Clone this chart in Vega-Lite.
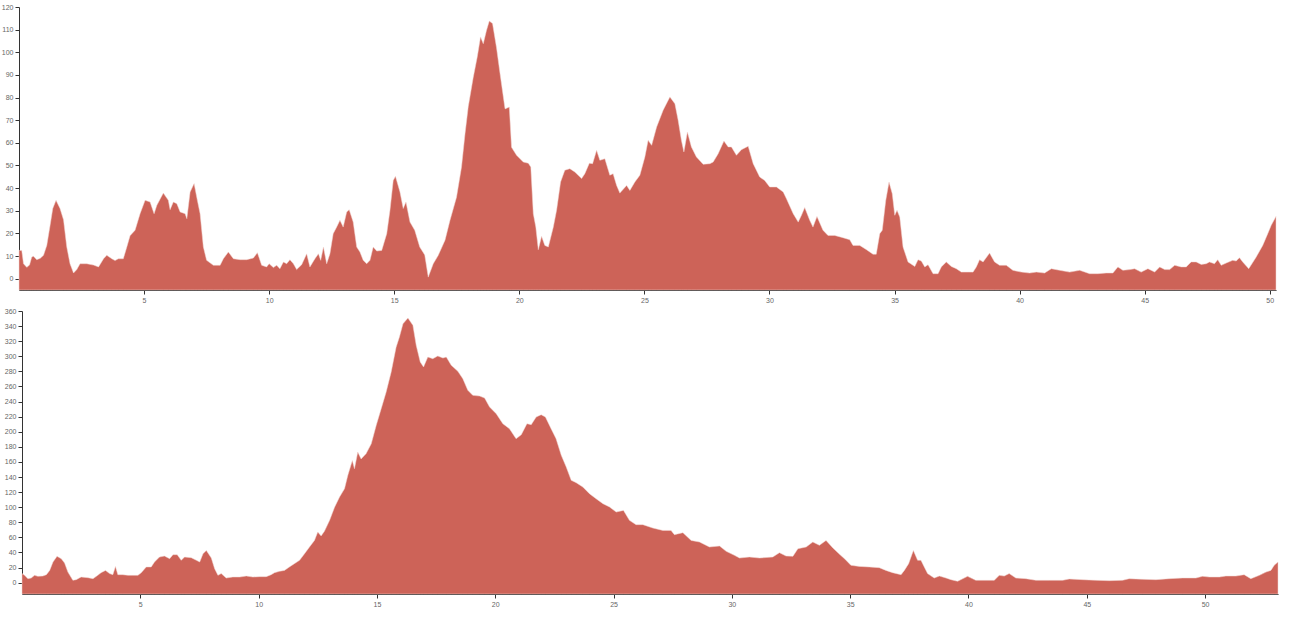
{
  "$schema": "https://vega.github.io/schema/vega-lite/v6.json",
  "background": "white",
  "padding": {"left": 1, "top": 3, "right": 5, "bottom": 5},
  "spacing": 4,
  "config": {
    "view": {"stroke": null},
    "axis": {
      "labelFont": "Liberation Sans",
      "labelFontSize": 7,
      "labelColor": "#666666",
      "domainColor": "#333333",
      "tickColor": "#333333",
      "tickSize": 4,
      "labelPadding": 2,
      "grid": false,
      "title": null
    }
  },
  "datasets": {
    "top": [
      {"x": 0.0, "y": 12.5}, {"x": 0.11, "y": 12.5}, {"x": 0.18, "y": 6.6}, {"x": 0.31, "y": 5}, {"x": 0.42, "y": 6},
      {"x": 0.51, "y": 9.6}, {"x": 0.58, "y": 9.9}, {"x": 0.71, "y": 8.4}, {"x": 0.85, "y": 9}, {"x": 0.98, "y": 10.3},
      {"x": 1.11, "y": 14.7}, {"x": 1.25, "y": 24}, {"x": 1.35, "y": 31}, {"x": 1.48, "y": 34.6}, {"x": 1.64, "y": 31},
      {"x": 1.78, "y": 26}, {"x": 1.91, "y": 14}, {"x": 2.04, "y": 6.6}, {"x": 2.18, "y": 2.5}, {"x": 2.31, "y": 4},
      {"x": 2.44, "y": 6.6}, {"x": 2.71, "y": 6.6}, {"x": 2.98, "y": 6}, {"x": 3.18, "y": 5.2}, {"x": 3.38, "y": 8.8},
      {"x": 3.51, "y": 10.3}, {"x": 3.71, "y": 8.8}, {"x": 3.84, "y": 8}, {"x": 3.97, "y": 8.8}, {"x": 4.17, "y": 8.8},
      {"x": 4.31, "y": 14}, {"x": 4.44, "y": 19}, {"x": 4.64, "y": 21.4}, {"x": 4.84, "y": 28.7}, {"x": 5.04, "y": 34.6},
      {"x": 5.24, "y": 33.9}, {"x": 5.4, "y": 28.7}, {"x": 5.51, "y": 32.4}, {"x": 5.77, "y": 37.8}, {"x": 5.97, "y": 34.6},
      {"x": 6.04, "y": 30.5}, {"x": 6.17, "y": 33.9}, {"x": 6.31, "y": 33.1}, {"x": 6.44, "y": 29.5}, {"x": 6.64, "y": 28.7},
      {"x": 6.71, "y": 26.5}, {"x": 6.84, "y": 38.3}, {"x": 7.0, "y": 42}, {"x": 7.13, "y": 34.6}, {"x": 7.24, "y": 28.7},
      {"x": 7.37, "y": 14}, {"x": 7.5, "y": 8.1}, {"x": 7.77, "y": 5.9}, {"x": 8.04, "y": 5.9}, {"x": 8.17, "y": 8.8},
      {"x": 8.37, "y": 11.8}, {"x": 8.57, "y": 8.8}, {"x": 8.84, "y": 8.4}, {"x": 9.1, "y": 8.4}, {"x": 9.37, "y": 9.1},
      {"x": 9.53, "y": 11.5}, {"x": 9.7, "y": 5.9}, {"x": 9.9, "y": 5.2}, {"x": 10.0, "y": 6.6}, {"x": 10.17, "y": 4.9},
      {"x": 10.3, "y": 5.9}, {"x": 10.43, "y": 4.4}, {"x": 10.57, "y": 7.4}, {"x": 10.7, "y": 6.6}, {"x": 10.83, "y": 8.4},
      {"x": 10.97, "y": 6.6}, {"x": 11.1, "y": 4}, {"x": 11.3, "y": 6.2}, {"x": 11.5, "y": 11}, {"x": 11.63, "y": 5.2},
      {"x": 11.83, "y": 8.8}, {"x": 11.97, "y": 11}, {"x": 12.06, "y": 8.1}, {"x": 12.17, "y": 14}, {"x": 12.3, "y": 6.6},
      {"x": 12.43, "y": 11}, {"x": 12.56, "y": 19.9}, {"x": 12.7, "y": 22.8}, {"x": 12.83, "y": 25.8}, {"x": 12.96, "y": 22.8},
      {"x": 13.1, "y": 29.5}, {"x": 13.2, "y": 30.5}, {"x": 13.36, "y": 25}, {"x": 13.5, "y": 14}, {"x": 13.63, "y": 11.8},
      {"x": 13.76, "y": 8.1}, {"x": 13.9, "y": 6.6}, {"x": 14.03, "y": 8.1}, {"x": 14.16, "y": 14}, {"x": 14.3, "y": 12.2},
      {"x": 14.5, "y": 12.5}, {"x": 14.7, "y": 19.9}, {"x": 14.83, "y": 30.2}, {"x": 14.96, "y": 43.4}, {"x": 15.05, "y": 45.2},
      {"x": 15.23, "y": 38.3}, {"x": 15.36, "y": 31}, {"x": 15.47, "y": 33.9}, {"x": 15.63, "y": 25}, {"x": 15.82, "y": 21.4},
      {"x": 16.02, "y": 14}, {"x": 16.22, "y": 10.5}, {"x": 16.36, "y": 0.7}, {"x": 16.56, "y": 6.6}, {"x": 16.76, "y": 10.3},
      {"x": 17.03, "y": 17}, {"x": 17.23, "y": 25.8}, {"x": 17.49, "y": 36}, {"x": 17.69, "y": 49.3}, {"x": 17.83, "y": 64},
      {"x": 17.96, "y": 76}, {"x": 18.16, "y": 89}, {"x": 18.32, "y": 98}, {"x": 18.45, "y": 106.8}, {"x": 18.56, "y": 103.8},
      {"x": 18.69, "y": 109.7}, {"x": 18.8, "y": 113.8}, {"x": 18.93, "y": 112.7}, {"x": 19.09, "y": 102}, {"x": 19.23, "y": 90.6},
      {"x": 19.43, "y": 75}, {"x": 19.6, "y": 75.8}, {"x": 19.69, "y": 58}, {"x": 19.89, "y": 54.5}, {"x": 20.16, "y": 51.5},
      {"x": 20.36, "y": 51}, {"x": 20.46, "y": 49.3}, {"x": 20.56, "y": 28.7}, {"x": 20.66, "y": 22.8}, {"x": 20.76, "y": 12.8},
      {"x": 20.89, "y": 18.7}, {"x": 21.02, "y": 14.7}, {"x": 21.16, "y": 14}, {"x": 21.36, "y": 22.8}, {"x": 21.49, "y": 30.2},
      {"x": 21.65, "y": 42.7}, {"x": 21.82, "y": 47.9}, {"x": 22.02, "y": 48.6}, {"x": 22.22, "y": 47.1}, {"x": 22.49, "y": 44.2},
      {"x": 22.62, "y": 46.4}, {"x": 22.8, "y": 51}, {"x": 22.93, "y": 50.8}, {"x": 23.09, "y": 56.7}, {"x": 23.22, "y": 52.3},
      {"x": 23.42, "y": 53}, {"x": 23.62, "y": 45.7}, {"x": 23.75, "y": 46.4}, {"x": 23.89, "y": 41.2}, {"x": 24.02, "y": 37.8},
      {"x": 24.29, "y": 41.2}, {"x": 24.42, "y": 39}, {"x": 24.62, "y": 42.7}, {"x": 24.82, "y": 45.7}, {"x": 25.02, "y": 53.8},
      {"x": 25.15, "y": 61.1}, {"x": 25.29, "y": 58.9}, {"x": 25.49, "y": 67}, {"x": 25.75, "y": 74.4}, {"x": 26.02, "y": 80.3},
      {"x": 26.22, "y": 77.3}, {"x": 26.35, "y": 70}, {"x": 26.48, "y": 61.1}, {"x": 26.58, "y": 56}, {"x": 26.72, "y": 64.8},
      {"x": 26.88, "y": 58.2}, {"x": 27.08, "y": 53.8}, {"x": 27.35, "y": 50.5}, {"x": 27.62, "y": 50.8}, {"x": 27.75, "y": 51.5},
      {"x": 27.95, "y": 55.2}, {"x": 28.18, "y": 60.8}, {"x": 28.35, "y": 58.2}, {"x": 28.48, "y": 58.2}, {"x": 28.68, "y": 54.5},
      {"x": 28.88, "y": 57}, {"x": 29.15, "y": 58.5}, {"x": 29.35, "y": 50.8}, {"x": 29.61, "y": 44.9}, {"x": 29.81, "y": 43.4},
      {"x": 30.01, "y": 40.5}, {"x": 30.28, "y": 40.5}, {"x": 30.55, "y": 38.3}, {"x": 30.68, "y": 35.3}, {"x": 30.95, "y": 28.7},
      {"x": 31.15, "y": 25}, {"x": 31.28, "y": 28}, {"x": 31.41, "y": 31.4}, {"x": 31.61, "y": 25.8}, {"x": 31.74, "y": 22.8},
      {"x": 31.9, "y": 27.5}, {"x": 32.14, "y": 21.4}, {"x": 32.34, "y": 19.1}, {"x": 32.61, "y": 19.1}, {"x": 32.94, "y": 18.1},
      {"x": 33.21, "y": 17.2}, {"x": 33.34, "y": 14.7}, {"x": 33.61, "y": 14.7}, {"x": 33.88, "y": 12.8}, {"x": 34.14, "y": 10.8},
      {"x": 34.27, "y": 10.8}, {"x": 34.41, "y": 19.9}, {"x": 34.51, "y": 21.4}, {"x": 34.65, "y": 34.6}, {"x": 34.78, "y": 42.7},
      {"x": 34.91, "y": 37.5}, {"x": 35.01, "y": 28}, {"x": 35.1, "y": 30.2}, {"x": 35.21, "y": 27.2}, {"x": 35.34, "y": 14},
      {"x": 35.54, "y": 7.4}, {"x": 35.81, "y": 5.4}, {"x": 35.94, "y": 8.4}, {"x": 36.07, "y": 7.8}, {"x": 36.21, "y": 5.2},
      {"x": 36.34, "y": 6.2}, {"x": 36.54, "y": 2.2}, {"x": 36.74, "y": 2.2}, {"x": 36.87, "y": 5.2}, {"x": 37.07, "y": 7.4},
      {"x": 37.27, "y": 5.4}, {"x": 37.47, "y": 4.4}, {"x": 37.67, "y": 2.9}, {"x": 37.94, "y": 2.9}, {"x": 38.14, "y": 2.9},
      {"x": 38.27, "y": 5.2}, {"x": 38.4, "y": 8.4}, {"x": 38.54, "y": 7.4}, {"x": 38.8, "y": 11.3}, {"x": 39.0, "y": 7.4},
      {"x": 39.2, "y": 5.9}, {"x": 39.47, "y": 5.9}, {"x": 39.73, "y": 3.7}, {"x": 40.07, "y": 2.9}, {"x": 40.4, "y": 2.5},
      {"x": 40.67, "y": 2.9}, {"x": 41.0, "y": 2.5}, {"x": 41.27, "y": 4.4}, {"x": 41.6, "y": 3.7}, {"x": 42.0, "y": 2.9},
      {"x": 42.4, "y": 3.7}, {"x": 42.8, "y": 2.2}, {"x": 43.13, "y": 2.2}, {"x": 43.46, "y": 2.5}, {"x": 43.73, "y": 2.5},
      {"x": 43.93, "y": 5.2}, {"x": 44.13, "y": 3.7}, {"x": 44.4, "y": 4}, {"x": 44.6, "y": 4.4}, {"x": 44.86, "y": 2.9},
      {"x": 45.13, "y": 4.4}, {"x": 45.4, "y": 2.9}, {"x": 45.6, "y": 5.2}, {"x": 45.8, "y": 4}, {"x": 46.0, "y": 4},
      {"x": 46.2, "y": 5.9}, {"x": 46.46, "y": 5.2}, {"x": 46.66, "y": 5.2}, {"x": 46.86, "y": 7.4}, {"x": 47.06, "y": 7.4},
      {"x": 47.26, "y": 6.3}, {"x": 47.46, "y": 6.6}, {"x": 47.59, "y": 7.4}, {"x": 47.79, "y": 6.6}, {"x": 47.92, "y": 8.4},
      {"x": 48.06, "y": 5.9}, {"x": 48.26, "y": 6.9}, {"x": 48.52, "y": 8.1}, {"x": 48.66, "y": 7.8}, {"x": 48.79, "y": 9.3},
      {"x": 48.92, "y": 7.4}, {"x": 49.16, "y": 4.4}, {"x": 49.46, "y": 9.6}, {"x": 49.72, "y": 14.7}, {"x": 49.92, "y": 19.9},
      {"x": 50.06, "y": 23.6}, {"x": 50.25, "y": 27.5}
    ],
    "bottom": [
      {"x": 0.0, "y": 12}, {"x": 0.11, "y": 9.7}, {"x": 0.25, "y": 5.3}, {"x": 0.39, "y": 6.2}, {"x": 0.53, "y": 9.7},
      {"x": 0.67, "y": 8.4}, {"x": 0.88, "y": 8.8}, {"x": 1.03, "y": 10.6}, {"x": 1.17, "y": 16.3}, {"x": 1.31, "y": 27.4},
      {"x": 1.48, "y": 34.9}, {"x": 1.66, "y": 31.8}, {"x": 1.8, "y": 26}, {"x": 1.94, "y": 14}, {"x": 2.15, "y": 3.1},
      {"x": 2.29, "y": 4}, {"x": 2.5, "y": 7.5}, {"x": 2.79, "y": 6.6}, {"x": 3.0, "y": 5.3}, {"x": 3.2, "y": 9.7},
      {"x": 3.34, "y": 13.3}, {"x": 3.53, "y": 16.3}, {"x": 3.7, "y": 12}, {"x": 3.84, "y": 10.6}, {"x": 3.95, "y": 21.6},
      {"x": 4.05, "y": 10.6}, {"x": 4.26, "y": 10.6}, {"x": 4.48, "y": 9.7}, {"x": 4.69, "y": 9.7}, {"x": 4.9, "y": 9.7},
      {"x": 5.04, "y": 13.3}, {"x": 5.25, "y": 20.8}, {"x": 5.46, "y": 20.8}, {"x": 5.6, "y": 27.4}, {"x": 5.81, "y": 34},
      {"x": 6.02, "y": 35.3}, {"x": 6.24, "y": 31.8}, {"x": 6.38, "y": 37.1}, {"x": 6.56, "y": 37.1}, {"x": 6.73, "y": 29.6},
      {"x": 6.87, "y": 34}, {"x": 7.15, "y": 33.1}, {"x": 7.37, "y": 29.6}, {"x": 7.51, "y": 27.4}, {"x": 7.65, "y": 38.4},
      {"x": 7.79, "y": 42.8}, {"x": 8.0, "y": 32.7}, {"x": 8.14, "y": 18.6}, {"x": 8.28, "y": 9.7}, {"x": 8.42, "y": 12},
      {"x": 8.63, "y": 6.2}, {"x": 8.91, "y": 7.5}, {"x": 9.2, "y": 7.5}, {"x": 9.48, "y": 8.8}, {"x": 9.76, "y": 7.5},
      {"x": 10.04, "y": 8}, {"x": 10.32, "y": 8}, {"x": 10.53, "y": 10.6}, {"x": 10.67, "y": 13.3}, {"x": 10.88, "y": 15},
      {"x": 11.09, "y": 16.3}, {"x": 11.3, "y": 20.8}, {"x": 11.51, "y": 25.2}, {"x": 11.73, "y": 29.6}, {"x": 11.94, "y": 38.4},
      {"x": 12.15, "y": 47.3}, {"x": 12.36, "y": 56}, {"x": 12.5, "y": 67.1}, {"x": 12.64, "y": 62}, {"x": 12.78, "y": 68},
      {"x": 13.0, "y": 82.6}, {"x": 13.21, "y": 100}, {"x": 13.42, "y": 113.5}, {"x": 13.63, "y": 124.6}, {"x": 13.77, "y": 142.2},
      {"x": 13.96, "y": 162}, {"x": 14.05, "y": 151}, {"x": 14.19, "y": 173}, {"x": 14.33, "y": 164}, {"x": 14.54, "y": 171},
      {"x": 14.76, "y": 184}, {"x": 14.97, "y": 208.5}, {"x": 15.18, "y": 230.6}, {"x": 15.39, "y": 252.7}, {"x": 15.6, "y": 279},
      {"x": 15.81, "y": 312}, {"x": 15.95, "y": 325.5}, {"x": 16.1, "y": 343}, {"x": 16.31, "y": 350.7}, {"x": 16.52, "y": 341},
      {"x": 16.66, "y": 314.5}, {"x": 16.83, "y": 292.4}, {"x": 16.97, "y": 285.8}, {"x": 17.15, "y": 299}, {"x": 17.36, "y": 296.8},
      {"x": 17.57, "y": 300.4}, {"x": 17.79, "y": 297.7}, {"x": 17.93, "y": 299}, {"x": 18.14, "y": 288}, {"x": 18.42, "y": 280},
      {"x": 18.63, "y": 270.3}, {"x": 18.84, "y": 254.9}, {"x": 19.05, "y": 248.2}, {"x": 19.34, "y": 247.3}, {"x": 19.55, "y": 244.7},
      {"x": 19.76, "y": 232.8}, {"x": 20.04, "y": 224}, {"x": 20.32, "y": 210.7}, {"x": 20.6, "y": 204}, {"x": 20.88, "y": 190.8},
      {"x": 21.1, "y": 196}, {"x": 21.34, "y": 210.7}, {"x": 21.52, "y": 209.4}, {"x": 21.73, "y": 219.5}, {"x": 21.94, "y": 222.6},
      {"x": 22.12, "y": 219.5}, {"x": 22.36, "y": 204}, {"x": 22.57, "y": 190.8}, {"x": 22.79, "y": 168.7}, {"x": 23.0, "y": 153.3},
      {"x": 23.21, "y": 135.6}, {"x": 23.42, "y": 132.5}, {"x": 23.7, "y": 126.8}, {"x": 23.98, "y": 118}, {"x": 24.26, "y": 111.3},
      {"x": 24.55, "y": 104.7}, {"x": 24.83, "y": 100.3}, {"x": 25.11, "y": 93.6}, {"x": 25.42, "y": 95.8}, {"x": 25.67, "y": 82.6},
      {"x": 25.95, "y": 76.9}, {"x": 26.24, "y": 76.9}, {"x": 26.66, "y": 72.4}, {"x": 27.08, "y": 69.3}, {"x": 27.43, "y": 69.3},
      {"x": 27.57, "y": 63.6}, {"x": 27.93, "y": 66.3}, {"x": 28.28, "y": 56}, {"x": 28.63, "y": 53.9}, {"x": 29.05, "y": 47.3},
      {"x": 29.48, "y": 48.6}, {"x": 29.76, "y": 41.5}, {"x": 30.11, "y": 36.2}, {"x": 30.32, "y": 32.7}, {"x": 30.74, "y": 34},
      {"x": 31.17, "y": 32.7}, {"x": 31.73, "y": 34}, {"x": 32.01, "y": 39.8}, {"x": 32.29, "y": 35.3}, {"x": 32.58, "y": 34.9},
      {"x": 32.79, "y": 45}, {"x": 33.14, "y": 47.3}, {"x": 33.42, "y": 53.9}, {"x": 33.7, "y": 49.5}, {"x": 33.98, "y": 56},
      {"x": 34.27, "y": 45.9}, {"x": 34.57, "y": 37.1}, {"x": 34.76, "y": 31.8}, {"x": 35.03, "y": 23}, {"x": 35.39, "y": 21.6},
      {"x": 35.81, "y": 20.8}, {"x": 36.23, "y": 19.9}, {"x": 36.51, "y": 16.3}, {"x": 36.79, "y": 13.3}, {"x": 37.15, "y": 10.6},
      {"x": 37.29, "y": 16.3}, {"x": 37.47, "y": 25.2}, {"x": 37.67, "y": 42.8}, {"x": 37.85, "y": 29.6}, {"x": 37.99, "y": 29.6},
      {"x": 38.13, "y": 20.8}, {"x": 38.27, "y": 12}, {"x": 38.55, "y": 6.2}, {"x": 38.77, "y": 8.8}, {"x": 39.05, "y": 6.2},
      {"x": 39.26, "y": 4}, {"x": 39.54, "y": 1.8}, {"x": 39.96, "y": 8.4}, {"x": 40.31, "y": 3.1}, {"x": 40.74, "y": 3.1},
      {"x": 41.09, "y": 3.1}, {"x": 41.3, "y": 9.7}, {"x": 41.51, "y": 8.8}, {"x": 41.72, "y": 12}, {"x": 42.0, "y": 6.2},
      {"x": 42.43, "y": 5.3}, {"x": 42.85, "y": 3.1}, {"x": 43.41, "y": 3.1}, {"x": 43.98, "y": 3.1}, {"x": 44.26, "y": 4.9},
      {"x": 44.82, "y": 4}, {"x": 45.38, "y": 3.1}, {"x": 45.95, "y": 2.7}, {"x": 46.51, "y": 3.1}, {"x": 46.79, "y": 5.3},
      {"x": 47.36, "y": 4.4}, {"x": 47.92, "y": 4}, {"x": 48.48, "y": 5.3}, {"x": 49.05, "y": 6.2}, {"x": 49.61, "y": 6.2},
      {"x": 49.89, "y": 8.4}, {"x": 50.18, "y": 7.5}, {"x": 50.6, "y": 7.5}, {"x": 50.88, "y": 8.8}, {"x": 51.3, "y": 8.8},
      {"x": 51.65, "y": 10.6}, {"x": 51.93, "y": 5.3}, {"x": 52.29, "y": 9.7}, {"x": 52.57, "y": 14}, {"x": 52.78, "y": 16.3},
      {"x": 52.92, "y": 23}, {"x": 53.08, "y": 27.4}
    ]
  },
  "vconcat": [
    {
      "width": 1257,
      "height": 283,
      "data": {"name": "top"},
      "mark": {"type": "area", "color": "#cd6358", "stroke": "#f3d6d2", "strokeWidth": 0.5},
      "encoding": {
        "x": {
          "field": "x", "type": "quantitative",
          "scale": {"domain": [0, 50.25], "nice": false, "zero": false},
          "axis": {"values": [5, 10, 15, 20, 25, 30, 35, 40, 45, 50], "labelFlush": false}
        },
        "y": {
          "field": "y", "type": "quantitative",
          "scale": {"domain": [-5, 120], "nice": false, "zero": false},
          "axis": {"values": [0, 10, 20, 30, 40, 50, 60, 70, 80, 90, 100, 110, 120]}
        },
        "y2": {"datum": -5}
      }
    },
    {
      "width": 1259,
      "height": 283,
      "data": {"name": "bottom"},
      "mark": {"type": "area", "color": "#cd6358", "stroke": "#f3d6d2", "strokeWidth": 0.5},
      "encoding": {
        "x": {
          "field": "x", "type": "quantitative",
          "scale": {"domain": [0, 53.08], "nice": false, "zero": false, "range": [3, 1259]},
          "axis": {"values": [5, 10, 15, 20, 25, 30, 35, 40, 45, 50], "labelFlush": false}
        },
        "y": {
          "field": "y", "type": "quantitative",
          "scale": {"domain": [-15, 360], "nice": false, "zero": false},
          "axis": {"values": [0, 20, 40, 60, 80, 100, 120, 140, 160, 180, 200, 220, 240, 260, 280, 300, 320, 340, 360], "offset": -3}
        },
        "y2": {"datum": -15}
      }
    }
  ]
}
